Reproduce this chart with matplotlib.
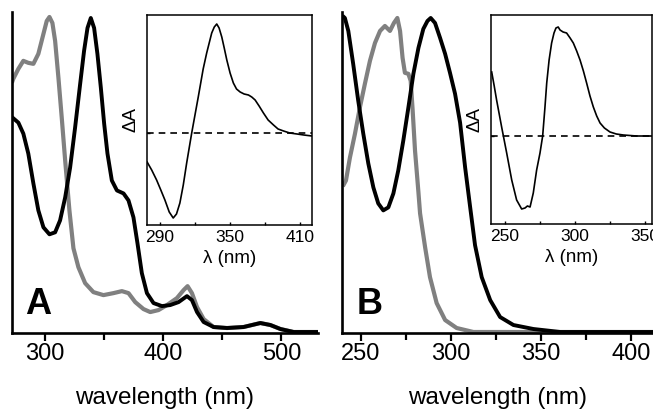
import matplotlib
matplotlib.use("Agg")
import matplotlib.pyplot as plt
from matplotlib.ticker import MultipleLocator

plt.rcParams['font.family'] = ['Liberation Sans', 'DejaVu Sans']

# ---------------- data ----------------
# Panel A, main absorption spectra (arbitrary absorbance units)
a_grey_nm = [272.5, 273.1, 277.4, 281.6, 285.8, 290.1, 294.3, 298.6, 301.4, 303.7, 306.2, 308.5,
             311.3, 314.1, 317.0, 320.6, 324.0, 328.2, 333.9, 340.9, 349.4, 357.9, 365.0, 370.6,
             376.3, 383.3, 389.0, 396.0, 403.1, 411.6, 417.2, 420.6, 424.3, 428.6, 434.2, 442.6,
             454.0, 468.0, 482.2, 490.7, 499.2, 510.4, 531.0]
a_grey_val = [252, 254, 264, 272, 270, 269, 279, 299, 312, 316, 310, 292,
              255, 215, 172, 122, 84, 65, 49, 40, 37, 39, 41, 39,
              30, 23, 20, 22, 27, 34, 42, 46, 39, 25, 13, 5,
              4, 5, 9, 7, 3, 0, 0]
a_black_nm = [272.5, 277.4, 281.6, 285.8, 290.1, 294.3, 298.6, 303.7, 308.5, 312.7, 317.0, 321.2,
              325.4, 329.7, 333.0, 335.9, 338.7, 341.5, 344.3, 347.2, 350.0, 352.8, 356.5, 360.8,
              366.4, 370.6, 374.8, 378.2, 381.9, 386.2, 391.8, 398.9, 405.9, 413.0, 420.1, 424.3,
              428.6, 434.2, 442.6, 454.0, 468.0, 482.2, 490.7, 499.2, 510.4, 531.0]
a_black_val = [215, 210, 199, 179, 149, 122, 105, 98, 100, 112, 135, 165,
               205, 249, 282, 305, 315, 305, 279, 245, 209, 179, 152, 142,
               139, 132, 115, 89, 59, 39, 29, 26, 27, 30, 36, 32,
               20, 10, 5, 4, 5, 9, 7, 3, 0, 0]

# Panel A, inset CD spectrum
a_cd_nm = [279.1, 283.0, 287.2, 290.8, 294.3, 298.0, 301.4, 304.2, 307.1, 310.0, 312.9, 317.2,
           322.8, 327.0, 330.0, 334.3, 336.5, 338.6, 340.6, 342.9, 345.0, 347.2, 350.0, 352.8,
           355.5, 358.6, 362.0, 365.7, 368.5, 371.4, 374.8, 378.5, 382.5, 387.1, 391.0, 395.7,
           401.0, 407.2, 413.0, 420.0]
a_cd_val = [-29, -37, -47, -57, -67, -79, -85, -81, -70, -52, -30, 0,
            36, 64, 80, 100, 106, 109, 105, 96, 85, 73, 60, 50,
            44, 41, 39, 38, 36, 33, 27, 20, 13, 8, 4, 2,
            0, -1, -2, -3]

# Panel B, main absorption spectra
b_grey_nm = [240.5, 241.7, 243.9, 246.7, 249.4, 252.2, 255.0, 257.8, 260.6, 263.3, 266.1, 268.3,
             270.2, 271.7, 273.1, 274.4, 276.3, 277.6, 278.7, 280.0, 281.9, 282.8, 285.6, 288.3,
             292.0, 296.7, 303.1, 312.4, 412.0]
b_grey_val = [148, 152, 175, 199, 225, 249, 272, 290, 302, 307, 302, 310,
              315, 302, 275, 260, 259, 252, 222, 182, 140, 119, 85, 55,
              29, 12, 4, 0, 0]
b_black_nm = [240.5, 241.1, 243.0, 245.7, 248.5, 251.3, 254.1, 256.9, 259.6, 262.4, 265.2, 268.0,
              270.7, 273.5, 276.3, 279.1, 281.9, 284.6, 286.9, 288.7, 291.1, 293.9, 296.7, 299.4,
              302.2, 305.0, 307.8, 310.6, 313.3, 317.0, 321.7, 327.2, 334.6, 345.7, 360.6, 412.0]
b_black_val = [316, 315, 302, 269, 232, 199, 169, 145, 129, 122, 125, 139,
               162, 192, 225, 259, 285, 304, 312, 315, 310, 295, 279, 260,
               239, 210, 165, 125, 87, 55, 32, 15, 7, 3, 0, 0]

# Panel B, inset CD spectrum
b_cd_nm = [240.5, 242.3, 244.0, 247.6, 251.2, 254.8, 258.3, 261.9, 264.3, 266.0, 267.9, 270.2,
           272.6, 275.0, 276.9, 278.5, 279.8, 281.5, 283.3, 285.0, 286.4, 288.0, 289.3, 291.5,
           294.0, 296.5, 298.8, 301.2, 303.6, 306.0, 308.3, 310.7, 313.1, 315.5, 317.9, 321.0,
           325.0, 329.5, 334.5, 344.0, 354.8]
b_cd_val = [64, 50, 36, 9, -17, -44, -64, -73, -72, -70, -71, -57,
            -34, -17, 0, 28, 53, 76, 93, 103, 108, 109, 106, 104,
            103, 98, 93, 85, 76, 65, 53, 40, 29, 20, 13, 8,
            4, 2, 1, 0, 0]

# ---------------- layout ----------------
W, H = 653, 418
fig = plt.figure(figsize=(W / 100, H / 100), dpi=100)


def px_axes(x0, y0, x1, y1):
    return fig.add_axes([x0 / W, 1 - y1 / H, (x1 - x0) / W, (y1 - y0) / H])


GREY = '#808080'


def style_main(ax):
    for s in ('top', 'right'):
        ax.spines[s].set_visible(False)
    for s in ('left', 'bottom'):
        ax.spines[s].set_linewidth(1.9)
    ax.set_yticks([])
    ax.tick_params(axis='x', which='major', direction='out', length=6, width=1.6,
                   labelsize=17, pad=1)
    ax.tick_params(axis='x', which='minor', direction='out', length=5, width=1.6)
    ax.set_xlabel('wavelength (nm)', fontsize=17.5, labelpad=16)


def style_inset(ax):
    for s in ax.spines.values():
        s.set_linewidth(1.1)
    ax.set_yticks([0])
    ax.set_yticklabels([])
    ax.tick_params(axis='both', which='both', direction='in', length=2.5, width=1.0)
    ax.tick_params(axis='x', labelsize=12.5, pad=3.5)
    ax.set_xlabel('λ (nm)', fontsize=13.5, labelpad=4)
    ax.set_ylabel('ΔA', fontsize=13.5, labelpad=2)


# Panel A main
axA = px_axes(12, 12, 318, 333)
axA.plot(a_grey_nm, a_grey_val, color=GREY, lw=3.0, solid_joinstyle='round')
axA.plot(a_black_nm, a_black_val, color='black', lw=2.8, solid_joinstyle='round')
axA.set_xlim(272, 531)
axA.set_ylim(-1, 321)
axA.xaxis.set_major_locator(MultipleLocator(100))
axA.xaxis.set_minor_locator(MultipleLocator(50))
style_main(axA)
axA.text(0.043, 0.033, 'A', transform=axA.transAxes, fontsize=26, fontweight='bold',
         va='bottom', ha='left')

# Panel B main
axB = px_axes(342, 12, 653, 333)
axB.plot(b_grey_nm, b_grey_val, color=GREY, lw=3.0, solid_joinstyle='round')
axB.plot(b_black_nm, b_black_val, color='black', lw=2.8, solid_joinstyle='round')
axB.set_xlim(239.5, 412)
axB.set_ylim(-1, 321)
axB.xaxis.set_major_locator(MultipleLocator(50))
axB.xaxis.set_minor_locator(MultipleLocator(25))
style_main(axB)
axB.text(0.048, 0.033, 'B', transform=axB.transAxes, fontsize=26, fontweight='bold',
         va='bottom', ha='left')

# Panel A inset
iA = px_axes(147, 15, 312, 225)
iA.plot(a_cd_nm, a_cd_val, color='black', lw=1.2, solid_joinstyle='round')
iA.axhline(0, color='black', lw=1.2, ls=(0, (4, 3)))
iA.set_xlim(279, 420)
iA.set_ylim(-92, 118)
iA.set_xticks([290, 350, 410])
iA.set_xticks([320, 380], minor=True)
style_inset(iA)

# Panel B inset
iB = px_axes(491, 15, 652, 224)
iB.plot(b_cd_nm, b_cd_val, color='black', lw=1.2, solid_joinstyle='round')
iB.axhline(0, color='black', lw=1.2, ls=(0, (4, 3)))
iB.set_xlim(240, 355)
iB.set_ylim(-88, 121)
iB.set_xticks([250, 300, 350])
iB.set_xticks([275, 325], minor=True)
style_inset(iB)

fig.savefig('out.png', dpi=100)
